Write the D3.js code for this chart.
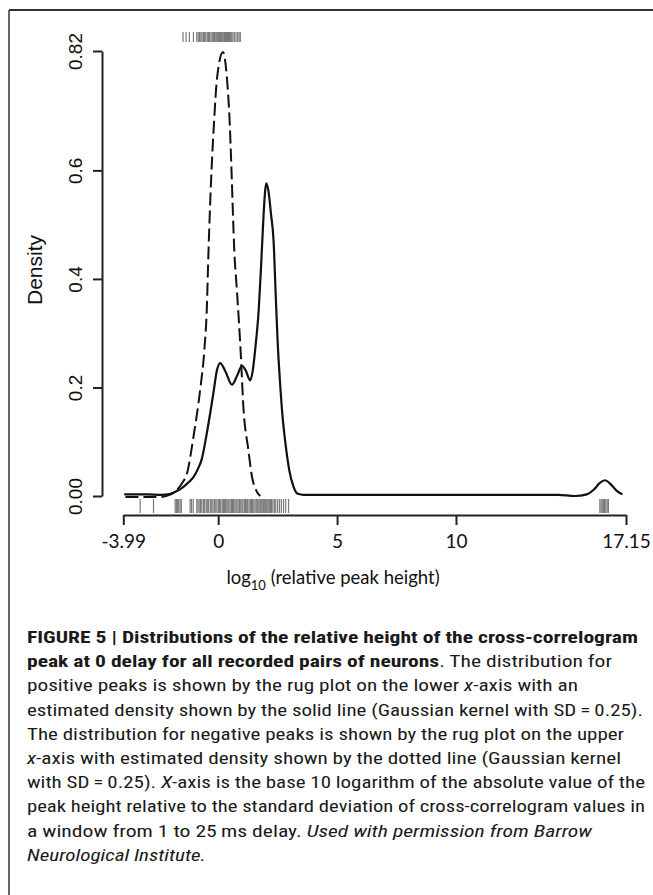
<!DOCTYPE html>
<html>
<head>
<meta charset="utf-8">
<script src="https://cdn.jsdelivr.net/npm/d3@7"></script>
<style>
  body { margin: 0; background: #fff; }
  svg { display: block; }
</style>
</head>
<body>
<svg id="drawing_region"></svg>
<script>
// solid line: density of positive peaks (log10 relative height)
const posX = [-3.95, -3.0, -2.4, -2.0, -1.7, -1.46, -1.2, -1.04, -0.85, -0.69, -0.48, -0.2, -0.05, 0.08, 0.3, 0.58, 0.8, 1.0, 1.15, 1.35, 1.45, 1.58, 1.7, 1.8, 1.9, 1.97, 2.02, 2.12, 2.22, 2.33, 2.42, 2.5, 2.6, 2.7, 2.82, 3.0, 3.17, 3.35, 3.6, 5, 10, 14.3, 15.0, 15.5, 15.8, 16.05, 16.27, 16.5, 16.75, 17.0];
const posDensity = [0.003, 0.003, 0.002, 0.004, 0.010, 0.017, 0.027, 0.035, 0.050, 0.068, 0.115, 0.190, 0.232, 0.245, 0.230, 0.205, 0.222, 0.240, 0.232, 0.213, 0.230, 0.280, 0.340, 0.420, 0.510, 0.560, 0.576, 0.560, 0.520, 0.470, 0.370, 0.285, 0.210, 0.150, 0.100, 0.045, 0.017, 0.004, 0.002, 0.002, 0.002, 0.002, 0.0, 0.003, 0.012, 0.024, 0.029, 0.022, 0.010, 0.003];

// dashed line: density of negative peaks
const negX = [-3.9, -2.5, -2.0, -1.74, -1.5, -1.32, -1.04, -0.76, -0.58, -0.48, -0.41, -0.3, -0.17, -0.05, 0.2, 0.37, 0.48, 0.56, 0.62, 0.68, 0.77, 0.86, 0.94, 1.06, 1.27, 1.42, 1.6, 1.77];
const negDensity = [-0.002, -0.002, 0.003, 0.011, 0.025, 0.040, 0.109, 0.195, 0.270, 0.343, 0.447, 0.580, 0.692, 0.769, 0.818, 0.769, 0.692, 0.600, 0.520, 0.450, 0.390, 0.330, 0.270, 0.164, 0.085, 0.036, 0.010, 0.0];

// rug plots
const posRug = [-3.28, -2.72, -1.81, -1.76, -1.71, -1.66, -1.6, -1.55, -1.18, -1.12, -1.05, -0.9, -0.85, -0.8, -0.74, -0.69, -0.62, -0.57, -0.5, -0.44, -0.4, -0.33, -0.27, -0.22, -0.16, -0.1, -0.05, 0.02, 0.06, 0.11, 0.17, 0.22, 0.27, 0.3, 0.36, 0.41, 0.45, 0.5, 0.56, 0.6, 0.64, 0.7, 0.75, 0.79, 0.84, 0.9, 0.95, 1.0, 1.04, 1.1, 1.15, 1.2, 1.24, 1.3, 1.35, 1.4, 1.44, 1.5, 1.55, 1.6, 1.64, 1.68, 1.72, 1.77, 1.81, 1.85, 1.9, 1.94, 1.98, 2.02, 2.06, 2.1, 2.15, 2.2, 2.24, 2.3, 2.36, 2.42, 2.5, 2.58, 2.66, 2.75, 2.84, 2.96, 16.05, 16.1, 16.15, 16.2, 16.25, 16.3, 16.36, 16.41];
const negRug = [-1.48, -1.35, -1.21, -1.04, -0.9, -0.84, -0.79, -0.73, -0.68, -0.62, -0.57, -0.52, -0.46, -0.41, -0.36, -0.3, -0.25, -0.2, -0.15, -0.1, -0.06, -0.02, 0.02, 0.06, 0.1, 0.13, 0.17, 0.2, 0.24, 0.27, 0.31, 0.35, 0.39, 0.43, 0.47, 0.52, 0.57, 0.62, 0.68, 0.75, 0.82, 0.88, 0.93];

// axes
const xTicks = [-3.99, 0, 5, 10, 17.15];
const xTickLabels = ['-3.99', '0', '5', '10', '17.15'];
const yTicks = [0, 0.2, 0.4, 0.6, 0.82];
const yTickLabels = ['0.00', '0.2', '0.4', '0.6', '0.82'];

// caption lines: [text, style] pieces
const captionLines = [
  [['FIGURE 5 | Distributions of the relative height of the cross-correlogram', 'b']],
  [['peak at 0 delay for all recorded pairs of neurons', 'b'], ['. The distribution for', 'n']],
  [['positive peaks is shown by the rug plot on the lower ', 'n'], ['x', 'i'], ['-axis with an', 'n']],
  [['estimated density shown by the solid line (Gaussian kernel with SD\u2009=\u20090.25).', 'n']],
  [['The distribution for negative peaks is shown by the rug plot on the upper', 'n']],
  [['x', 'i'], ['-axis with estimated density shown by the dotted line (Gaussian kernel', 'n']],
  [['with SD\u2009=\u20090.25). ', 'n'], ['X', 'i'], ['-axis is the base 10 logarithm of the absolute value of the', 'n']],
  [['peak height relative to the standard deviation of cross-correlogram values in', 'n']],
  [['a window from 1 to 25\u2009ms delay. ', 'n'], ['Used with permission from Barrow', 'i']],
  [['Neurological Institute.', 'i']]
];
const captionWidths = [611, 585, 551, 616, 597, 594, 618, 618, 565, 179];

class DensityChart {

  constructor( config ) {
    this.config = config;
    this.pos = posX.map( (x, i) => ({x: x, y: posDensity[i]}) );
    this.neg = negX.map( (x, i) => ({x: x, y: negDensity[i]}) );
    this.init();
  }

  init() {
    let self = this;

    self.svg = d3.select( self.config.parent )
      .attr('width', self.config.width)
      .attr('height', self.config.height);

    // frame of the figure panel
    self.svg.append('line')
      .attr('x1', 9).attr('x2', 653).attr('y1', 10).attr('y2', 10)
      .attr('stroke', '#333').attr('stroke-width', 2);
    self.svg.append('line')
      .attr('x1', 9).attr('x2', 9).attr('y1', 10).attr('y2', 895)
      .attr('stroke', '#333').attr('stroke-width', 1.5);

    self.x_scale = d3.scaleLinear()
      .domain( [-3.99, 17.15] )
      .range( [123.3, 626] );

    self.y_scale = d3.scaleLinear()
      .domain( [0, 0.82] )
      .range( [496, 51] );

    self.x_axis = d3.axisBottom( self.x_scale )
      .tickValues( xTicks )
      .tickFormat( (d, i) => xTickLabels[i] )
      .tickSize(10).tickSizeOuter(0).tickPadding(10);

    self.y_axis = d3.axisLeft( self.y_scale )
      .tickValues( yTicks )
      .tickFormat( (d, i) => yTickLabels[i] )
      .tickSize(9).tickSizeOuter(0);

    self.line = d3.line()
      .x( d => self.x_scale(d.x) )
      .y( d => self.y_scale(d.y) )
      .curve( d3.curveMonotoneX );
  }

  render() {
    let self = this;

    // rugs
    self.svg.append('g').selectAll('line')
      .data(posRug).join('line')
      .attr('x1', d => self.x_scale(d)).attr('x2', d => self.x_scale(d))
      .attr('y1', 499).attr('y2', 513)
      .attr('stroke', '#7a7a7a').attr('stroke-width', 1.2);

    self.svg.append('g').selectAll('line')
      .data(negRug).join('line')
      .attr('x1', d => self.x_scale(d)).attr('x2', d => self.x_scale(d))
      .attr('y1', 32).attr('y2', 42)
      .attr('stroke', '#7a7a7a').attr('stroke-width', 1.2);

    self.svg.append('path')
      .attr('d', self.line(self.neg))
      .attr('fill', 'none')
      .attr('stroke', '#111')
      .attr('stroke-width', 2)
      .attr('stroke-dasharray', '13,5');

    self.svg.append('path')
      .attr('d', self.line(self.pos))
      .attr('fill', 'none')
      .attr('stroke', '#111')
      .attr('stroke-width', 2.2);

    const xg = self.svg.append('g')
      .attr('transform', 'translate(0, 515)')
      .call(self.x_axis);
    xg.selectAll('path, line').attr('stroke', '#222').attr('stroke-width', 2);
    xg.selectAll('text')
      .attr('font-family', 'Lato, sans-serif')
      .attr('font-size', 19)
      .attr('fill', '#111');

    const yg = self.svg.append('g')
      .attr('transform', 'translate(102, 0)')
      .call(self.y_axis);
    yg.selectAll('path, line').attr('stroke', '#222').attr('stroke-width', 2);
    yg.selectAll('text')
      .attr('transform', 'rotate(-90)')
      .attr('x', 0).attr('y', -20).attr('dy', 0)
      .attr('text-anchor', 'middle')
      .attr('font-family', "'Liberation Sans', Arial, sans-serif")
      .attr('font-size', 19)
      .attr('fill', '#111');

    // axis titles
    self.svg.append('text')
      .attr('transform', 'translate(42, 270) rotate(-90)')
      .attr('text-anchor', 'middle')
      .attr('font-family', "'Liberation Sans', Arial, sans-serif")
      .attr('font-size', 21)
      .attr('fill', '#111')
      .text('Density');

    const xl = self.svg.append('text')
      .attr('x', 333).attr('y', 584)
      .attr('text-anchor', 'middle')
      .attr('font-family', 'Lato, sans-serif')
      .attr('font-size', 18.5)
      .attr('fill', '#111');
    xl.append('tspan').text('log');
    xl.append('tspan').attr('font-size', 13).attr('dy', 6).text('10');
    xl.append('tspan').attr('dy', -6).text(' (relative peak height)');

    // caption
    const cap = self.svg.append('g')
      .attr('font-family', "'Liberation Sans Narrow', 'Roboto Condensed', 'Liberation Sans', sans-serif")
      .attr('font-size', 17)
      .attr('fill', '#1a1a1a');

    captionLines.forEach( (parts, i) => {
      const t = cap.append('text')
        .attr('x', 27)
        .attr('y', 643 + i * 24.2)
        .attr('textLength', captionWidths[i])
        .attr('lengthAdjust', 'spacingAndGlyphs');
      parts.forEach( p => {
        t.append('tspan')
          .attr('font-weight', p[1] === 'b' ? 'bold' : 'normal')
          .attr('font-style', p[1] === 'i' ? 'italic' : 'normal')
          .text(p[0]);
      });
    });
  }
}

const chart = new DensityChart({ parent: '#drawing_region', width: 653, height: 895 });
chart.render();
</script>
</body>
</html>
